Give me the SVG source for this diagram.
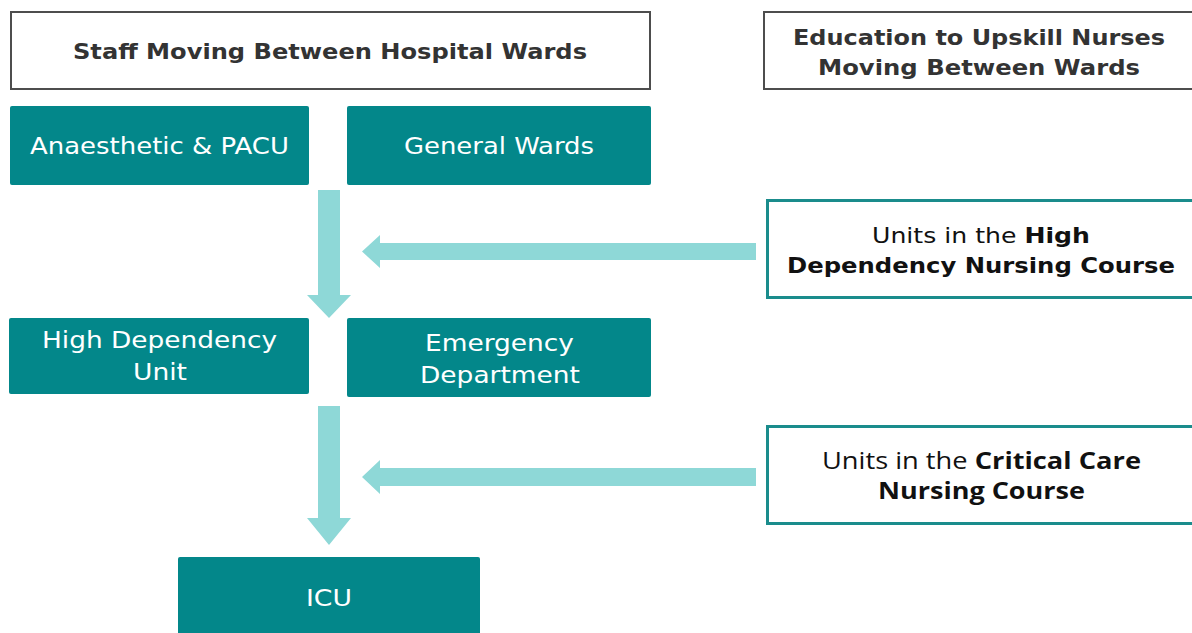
<svg xmlns="http://www.w3.org/2000/svg" width="1192" height="633" viewBox="0 0 1192 633">
<style>
.hdr{fill:#fff;stroke:#4d4d4d;stroke-width:2}
.hdrt{font-family:"DejaVu Sans","Liberation Sans",sans-serif;font-weight:700;font-size:22px;fill:#333;text-anchor:middle}
.ward{fill:#03878A}
.wt{font-family:"DejaVu Sans","Liberation Sans",sans-serif;font-size:23px;fill:#fff;text-anchor:middle}
.edu{fill:#fff;stroke:#1a8c8c;stroke-width:3}
.et{font-family:"DejaVu Sans","Liberation Sans",sans-serif;font-size:22px;fill:#111;text-anchor:middle}
.et2{font-family:"Open Sans","Liberation Sans",sans-serif;font-size:23px;fill:#111;text-anchor:middle}
.b{font-weight:700}
.arr{fill:#8ED8D7}
</style>
<g id="connectors">
<polygon class="arr" points="318,190 340,190 340,295 351,295 329,318 307,295 318,295"/>
<polygon class="arr" points="318,406 340,406 340,518 351,518 329,545 307,518 318,518"/>
<polygon class="arr" points="756,243 756,260 380,260 380,268 362,251.5 380,235 380,243"/>
<polygon class="arr" points="756,468 756,486 380,486 380,494 362,477 380,460 380,468"/>
</g>
<g id="header-staff">
<rect class="hdr" x="11" y="12" width="639" height="77"/>
<text class="hdrt" x="330" y="59" textLength="514" lengthAdjust="spacingAndGlyphs">Staff Moving Between Hospital Wards</text>
</g>
<g id="header-education">
<rect class="hdr" x="764" y="12" width="440" height="77"/>
<text class="hdrt" x="979" y="45" textLength="372" lengthAdjust="spacingAndGlyphs">Education to Upskill Nurses</text>
<text class="hdrt" x="979" y="75" textLength="322" lengthAdjust="spacingAndGlyphs">Moving Between Wards</text>
</g>
<g id="node-anaesthetic">
<rect class="ward" x="10" y="106" width="299" height="79" rx="2"/>
<text class="wt" x="159.5" y="154" textLength="259" lengthAdjust="spacingAndGlyphs">Anaesthetic &amp; PACU</text>
</g>
<g id="node-general">
<rect class="ward" x="347" y="106" width="304" height="79" rx="2"/>
<text class="wt" x="499" y="154" textLength="190" lengthAdjust="spacingAndGlyphs">General Wards</text>
</g>
<g id="node-hdu">
<rect class="ward" x="9" y="318" width="300" height="76" rx="2"/>
<text class="wt" x="159.5" y="348" textLength="235" lengthAdjust="spacingAndGlyphs">High Dependency</text>
<text class="wt" x="160" y="380" textLength="54" lengthAdjust="spacingAndGlyphs">Unit</text>
</g>
<g id="node-ed">
<rect class="ward" x="347" y="318" width="304" height="79" rx="2"/>
<text class="wt" x="499.5" y="351" textLength="149" lengthAdjust="spacingAndGlyphs">Emergency</text>
<text class="wt" x="500" y="383" textLength="160" lengthAdjust="spacingAndGlyphs">Department</text>
</g>
<g id="node-icu">
<rect class="ward" x="178" y="557" width="302" height="80" rx="2"/>
<text class="wt" x="329" y="606" textLength="46" lengthAdjust="spacingAndGlyphs">ICU</text>
</g>
<g id="node-hd-course">
<rect class="edu" x="767.5" y="200.5" width="430" height="97"/>
<text class="et" x="981" y="243" textLength="218" lengthAdjust="spacingAndGlyphs">Units in the <tspan class="b">High</tspan></text>
<text class="et b" x="981" y="273" textLength="388" lengthAdjust="spacingAndGlyphs">Dependency Nursing Course</text>
</g>
<g id="node-cc-course">
<rect class="edu" x="767.5" y="426.5" width="430" height="97"/>
<text class="et2" x="981.5" y="469" textLength="319" lengthAdjust="spacingAndGlyphs">Units in the <tspan class="b">Critical Care</tspan></text>
<text class="et2 b" x="981.5" y="499" textLength="207" lengthAdjust="spacingAndGlyphs">Nursing Course</text>
</g>
</svg>
